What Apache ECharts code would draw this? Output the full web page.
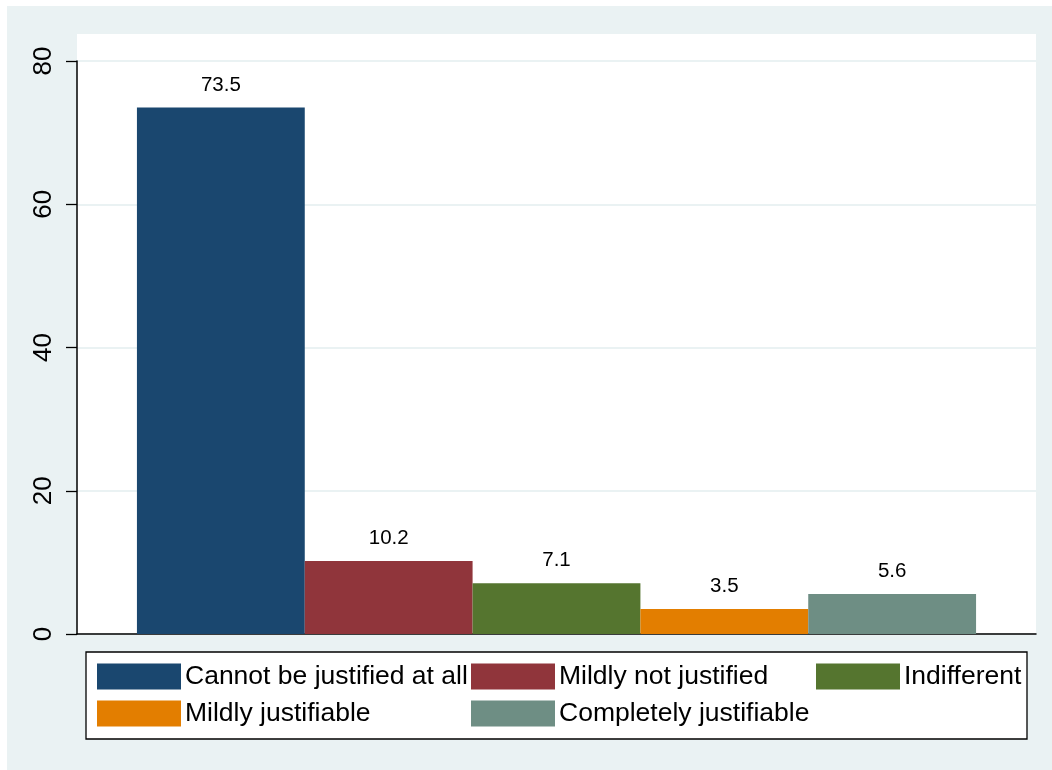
<!DOCTYPE html>
<html><head><meta charset="utf-8">
<script src="https://cdn.jsdelivr.net/npm/echarts@6/dist/echarts.min.js"></script>
<style>html,body{margin:0;padding:0;background:#fff;}#c{width:1052px;height:770px;}</style>
</head><body><div id="c"></div>
<script>
const categories = ["Cannot be justified at all", "Mildly not justified", "Indifferent", "Mildly justifiable", "Completely justifiable"];
const values = [73.5, 10.2, 7.1, 3.5, 5.6];
const colors = ["#1A476F", "#90353B", "#55752F", "#E37E00", "#6E8E84"];
const yTicks = [0, 20, 40, 60, 80];

const FONT = "Liberation Sans, Arial, sans-serif";
const legendPos = [
  {left: 97, top: 663}, {left: 471, top: 663}, {left: 816, top: 663},
  {left: 97, top: 700}, {left: 471, top: 700}
];

const chart = echarts.init(document.getElementById('c'), null, {renderer: 'canvas'});
const option = {
  animation: false,
  backgroundColor: '#ffffff',
  textStyle: {fontFamily: FONT},
  graphic: [
    {type: 'rect', z: -10, shape: {x: 7, y: 6, width: 1045, height: 764}, style: {fill: '#EAF2F3'}, silent: true},
    {type: 'rect', z: -9, shape: {x: 77, y: 34, width: 959, height: 600}, style: {fill: '#ffffff'}, silent: true},
    {type: 'rect', z: -8, shape: {x: 86, y: 652, width: 941, height: 87}, style: {fill: '#ffffff', stroke: '#000', lineWidth: 1.3}, silent: true}
  ],
  grid: {left: 77, right: 16, top: 61, bottom: 136, containLabel: false},
  legend: categories.map((c, i) => ({
    data: [c], left: legendPos[i].left, top: legendPos[i].top,
    itemWidth: 84, itemHeight: 26, itemGap: 0, padding: 0,
    icon: 'rect',
    textStyle: {fontSize: 26.5, color: '#000', fontFamily: FONT, padding: [6, 0, 0, -1]}
  })),
  xAxis: {
    type: 'category', data: ['all'],
    axisLine: {show: true, lineStyle: {color: '#000', width: 1.5}},
    axisTick: {show: false}, axisLabel: {show: false}, splitLine: {show: false}
  },
  yAxis: {
    type: 'value', min: yTicks[0], max: yTicks[yTicks.length - 1], interval: 20,
    axisLine: {show: true, lineStyle: {color: '#000', width: 1.5}},
    axisTick: {show: true, length: 11, lineStyle: {color: '#000', width: 1.3}},
    axisLabel: {rotate: 90, fontSize: 26, color: '#000', margin: 20, fontFamily: FONT},
    splitLine: {show: true, lineStyle: {color: '#EAF2F3', width: 2}}
  },
  series: categories.map((c, i) => ({
    name: c, type: 'bar', data: [values[i]],
    barGap: '0%', barCategoryGap: '12.5%',
    itemStyle: {color: colors[i]},
    label: {show: true, position: 'top', distance: 12, fontSize: 20.5, color: '#000', fontFamily: FONT,
      formatter: p => values[i].toFixed(1)}
  }))
};
chart.setOption(option);
</script></body></html>
